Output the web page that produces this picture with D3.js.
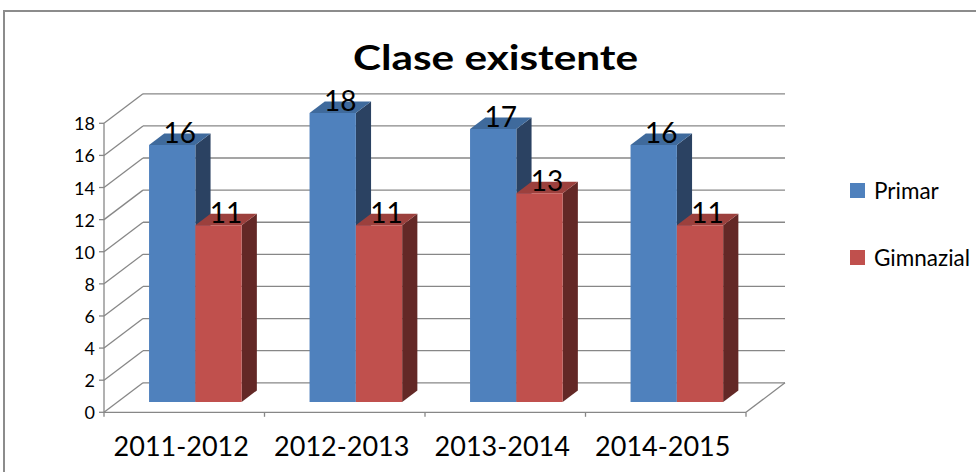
<!DOCTYPE html>
<html>
<head>
<meta charset="utf-8">
<script src="https://cdn.jsdelivr.net/npm/d3@7"></script>
<style>
  html, body { margin: 0; padding: 0; background: #fff; }
  svg { display: block; }
  text { font-family: Lato, "Open Sans", sans-serif; fill: #000; }
</style>
</head>
<body>
<svg id="chart" width="976" height="472"></svg>
<script>
// ---- data ----
const categories = ["2011-2012", "2012-2013", "2013-2014", "2014-2015"];
const seriesNames = ["Primar", "Gimnazial"];
const primar = [16, 18, 17, 16];
const gimnazial = [11, 11, 13, 11];
const yTicks = [0, 2, 4, 6, 8, 10, 12, 14, 16, 18];
const titleText = "Clase existente";

const seriesValues = [primar, gimnazial];
const colors = {
  Primar:    { front: "#4F81BD", top: "#3F6A9C", side: "#2B4262" },
  Gimnazial: { front: "#C0504D", top: "#9C403D", side: "#632826" }
};

const svg = d3.select("#chart");

// outer border
svg.append("rect")
  .attr("x", 4).attr("y", 11).attr("width", 1000).attr("height", 500)
  .attr("fill", "none").attr("stroke", "#8c8c8c").attr("stroke-width", 2);

// ---- scales / projection ----
const x0 = d3.scaleBand().domain(categories).range([104, 746]).padding(0);
const x1 = d3.scaleBand().domain(seriesNames).range([31.4, 31.4 + 92.6]).padding(0);
const y = d3.scaleLinear().domain([0, 18]).range([412.3, 123.3]);
const depth = { dx: 39, dy: -29.5 };
const P = (xf, v, d) => [xf + depth.dx * d, y(v) + depth.dy * d];
const barD0 = 0.35, barD1 = 0.74;

const gridColor = "#878787";
const grid = svg.append("g").attr("stroke", gridColor).attr("stroke-width", 1.3).attr("fill", "none");

// back wall horizontal gridlines + side wall diagonals
yTicks.forEach(v => {
  const a = P(104, v, 1), b = P(746, v, 1);
  grid.append("line").attr("x1", a[0]).attr("y1", a[1]).attr("x2", b[0]).attr("y2", b[1]);
  const c = P(104, v, 0);
  grid.append("line").attr("x1", c[0]).attr("y1", c[1]).attr("x2", a[0]).attr("y2", a[1]);
});
// floor right edge
{
  const a = P(746, 0, 0), b = P(746, 0, 1);
  grid.append("line").attr("x1", a[0]).attr("y1", a[1]).attr("x2", b[0]).attr("y2", b[1]);
}
// front axes
grid.append("line").attr("x1", 104).attr("y1", y(0)).attr("x2", 746).attr("y2", y(0));
grid.append("line").attr("x1", 104).attr("y1", y(0)).attr("x2", 104).attr("y2", y(18));
yTicks.forEach(v => {
  grid.append("line").attr("x1", 99).attr("y1", y(v)).attr("x2", 104).attr("y2", y(v));
});
categories.forEach(c => {
  const xx = x0(c);
  grid.append("line").attr("x1", xx).attr("y1", y(0)).attr("x2", xx).attr("y2", y(0) + 4.5);
});
grid.append("line").attr("x1", 746).attr("y1", y(0)).attr("x2", 746).attr("y2", y(0) + 4.5);

// y tick labels
svg.append("g").selectAll("text").data(yTicks).join("text")
  .attr("x", 95).attr("y", v => y(v) + 7)
  .attr("text-anchor", "end").attr("font-size", 18).text(v => v);

// ---- bars ----
const bars = [];
categories.forEach((c, i) => {
  seriesNames.forEach((s, j) => {
    bars.push({ cat: c, series: s, value: seriesValues[j][i] });
  });
});

const poly = pts => pts.map(p => p.join(",")).join(" ");
const gBars = svg.append("g");
bars.forEach(b => {
  const xl = x0(b.cat) + x1(b.series);
  const xr = xl + x1.bandwidth();
  const col = colors[b.series];
  const f = [P(xl, 0, barD0), P(xr, 0, barD0), P(xr, b.value, barD0), P(xl, b.value, barD0)];
  const sd = [P(xr, 0, barD0), P(xr, 0, barD1), P(xr, b.value, barD1), P(xr, b.value, barD0)];
  const t = [P(xl, b.value, barD0), P(xr, b.value, barD0), P(xr, b.value, barD1), P(xl, b.value, barD1)];
  gBars.append("polygon").attr("points", poly(sd)).attr("fill", col.side);
  gBars.append("polygon").attr("points", poly(t)).attr("fill", col.top);
  gBars.append("polygon").attr("points", poly(f)).attr("fill", col.front);
});

// data labels
svg.append("g").selectAll("text").data(bars).join("text")
  .attr("x", b => {
    const xl = x0(b.cat) + x1(b.series);
    return xl + x1.bandwidth() / 2 + depth.dx * (barD0 + barD1) / 2;
  })
  .attr("y", b => P(0, b.value, barD0)[1] - 2)
  .attr("text-anchor", "middle").attr("font-size", 28)
  .text(b => b.value);

// category labels
svg.append("g").selectAll("text").data(categories).join("text")
  .attr("x", c => x0(c) + x0.bandwidth() / 2 - 3)
  .attr("y", 456)
  .attr("text-anchor", "middle").attr("font-size", 27)
  .text(c => c);

// title
svg.append("text").attr("x", 495.5).attr("y", 69.5)
  .attr("text-anchor", "middle").attr("font-size", 35).attr("font-weight", "bold")
  .attr("textLength", 285).attr("lengthAdjust", "spacingAndGlyphs")
  .text(titleText);

// legend
const legendY = [183, 250];
const lg = svg.append("g");
seriesNames.forEach((s, i) => {
  lg.append("rect").attr("x", 850).attr("y", legendY[i]).attr("width", 15).attr("height", 15)
    .attr("fill", colors[s].front);
  lg.append("text").attr("x", 874).attr("y", legendY[i] + 16).attr("font-size", 22.5).text(s);
});
</script>
</body>
</html>
